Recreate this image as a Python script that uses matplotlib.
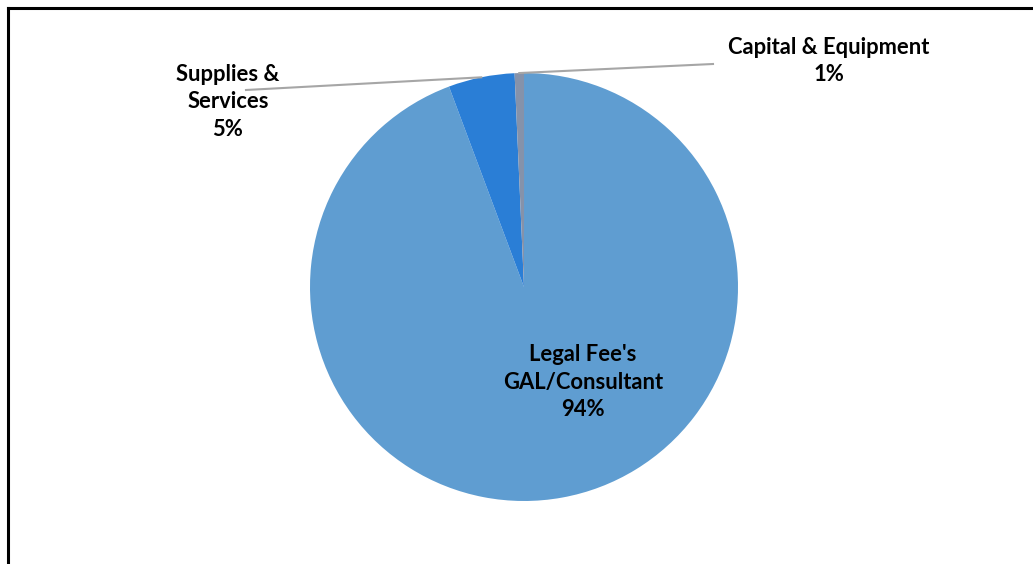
import matplotlib.pyplot as plt
import numpy as np

categories = ["Legal Fee's\nGAL/Consultant", "Supplies &\nServices", "Capital & Equipment"]
shares = [94.3, 5.0, 0.7]
pct_labels = ["94%", "5%", "1%"]
colors = ['#5f9dd1', '#2a7ed6', '#8592aa']

W, H = 1033, 564
cx, cy, r = 524, 287, 214

plt.rcParams['font.family'] = ['Lato', 'DejaVu Sans']

fig = plt.figure(figsize=(W / 100, H / 100), dpi=100)
ax = fig.add_axes([(cx - r) / W, (H - cy - r) / H, 2 * r / W, 2 * r / H])

wedges, _ = ax.pie(shares, colors=colors, startangle=90, counterclock=False,
                   radius=1, wedgeprops=dict(linewidth=0))
ax.set_xlim(-1, 1)
ax.set_ylim(-1, 1)
ax.set_aspect('equal')
ax.axis('off')

def px(x, y):
    # pixel position -> axes data units
    return (x - cx) / r, (cy - y) / r

font = dict(fontsize=15.8, fontweight='bold', color='black', ha='center', va='center',
            linespacing=1.4)

# label inside the big slice
lx, ly = px(583, 382)
ax.text(lx, ly, categories[0] + '\n' + pct_labels[0], **font)

# outside labels with leader lines to the middle of each slice
outside = {1: ((228, 102), (246, 90)), 2: ((829, 61), (713, 64))}
for i, (lab, start) in outside.items():
    w = wedges[i]
    mid = np.deg2rad((w.theta1 + w.theta2) / 2)
    ex, ey = np.cos(mid), np.sin(mid)
    sx, sy = px(*start)
    ax.plot([sx, ex], [sy, ey], color='#a6a6a6', lw=1.5, clip_on=False)
    tx, ty = px(*lab)
    ax.text(tx, ty, categories[i] + '\n' + pct_labels[i], **font)

# chart border (top and left edges visible)
fig.add_artist(plt.Line2D([8 / W, 1], [1 - 8 / H, 1 - 8 / H], color='black', lw=2.2))
fig.add_artist(plt.Line2D([8 / W, 8 / W], [0, 1 - 8 / H], color='black', lw=2.2))

fig.savefig('out.png', dpi=100)
